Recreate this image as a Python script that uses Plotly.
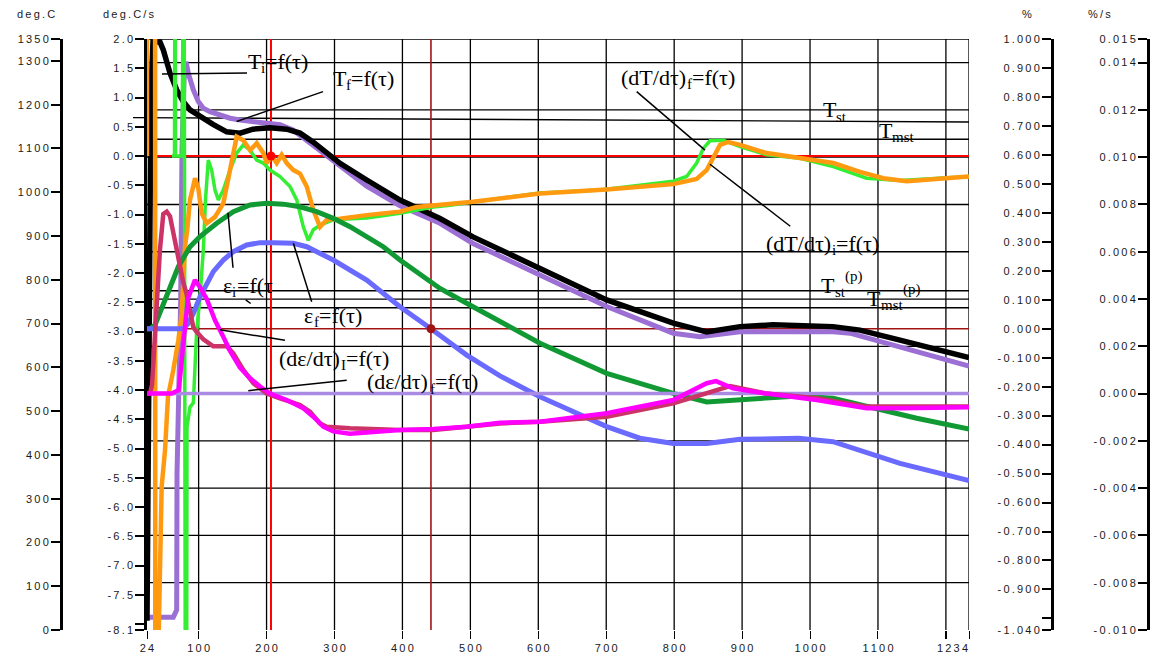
import plotly.graph_objects as go

# ---------------- data ----------------
# time, s
tau_ticks = [24, 100, 200, 300, 400, 500, 600, 700, 800, 900, 1000, 1100, 1234]
tau_labels = ["24", "100", "200", "300", "400", "500", "600", "700", "800", "900",
              "1000", "1100", "1234"]
tau_minor = [1200]

# axis ticks
temp_ticks = [1350, 1300, 1200, 1100, 1000, 900, 800, 700, 600, 500, 400, 300, 200, 100, 0]
rate_ticks = [2.0, 1.5, 1.0, 0.5, 0.0, -0.5, -1.0, -1.5, -2.0, -2.5, -3.0, -3.5, -4.0,
              -4.5, -5.0, -5.5, -6.0, -6.5, -7.0, -7.5, -8.1]
rate_minor = [-8.0]
strain_ticks = [1.0, 0.9, 0.8, 0.7, 0.6, 0.5, 0.4, 0.3, 0.2, 0.1, 0.0, -0.1, -0.2, -0.3,
                -0.4, -0.5, -0.6, -0.7, -0.8, -0.9, -1.04]
strain_minor = [-1.0]
srate_ticks = [0.015, 0.014, 0.012, 0.010, 0.008, 0.006, 0.004, 0.002, 0.000,
               -0.002, -0.004, -0.006, -0.008, -0.010]

# T_i, deg.C
tau_Ti = [24, 25.5, 27, 28.4, 29.9, 32.8, 43.1, 48.0, 57.9, 67.7, 77.4, 87.3, 102.0, 121.2,
          141.3, 160.9, 180.0, 205.1, 229.6, 249.2, 268.4, 288.5, 308.1, 347.4, 396.4,
          455.3, 503.9, 602.5, 700.7, 798.7, 847.9, 897.0, 945.5, 1033.8, 1073.5, 1132.4, 1234]
T_i = [21, 297, 754, 1096, 1234, 1343, 1343, 1325, 1272, 1234, 1207, 1188, 1173, 1155,
       1138, 1135, 1144, 1147, 1144, 1135, 1115, 1089, 1066, 1028, 982,
       940, 898, 826, 754, 701, 681, 693, 697, 693, 685, 662, 622]

# T_f, deg.C
tau_Tf = [24, 62.7, 67.7, 68.2, 73.6, 75.5, 78.5, 81.4, 84.8, 92.2, 99.5, 106.9, 116.7,
          131.5, 146.2, 160.9, 180.0, 200.2, 219.8, 238.9, 258.9, 278.5, 308.1, 347.4,
          396.4, 455.3, 503.9, 602.5, 700.7, 798.7, 838.0, 897.0, 1033.8, 1058.8, 1132.4, 1234]
T_f = [29, 29, 46, 359, 754, 1096, 1256, 1298, 1272, 1234, 1207, 1192, 1184,
       1176, 1169, 1165, 1161, 1159, 1154, 1142, 1119, 1093, 1060, 1014,
       969, 929, 883, 811, 739, 678, 670, 681, 681, 678, 647, 603]

# (dT/dtau)_i, deg.C/s
tau_dTi = [24, 25, 35, 36.5, 41, 43.1, 45.6, 50.5, 54.9, 62.7, 70.1, 75.1, 77.4, 79.9, 83.3,
           87.3, 94.7, 99.5, 104.5, 111.9, 124.1, 136.3, 146.2, 156.0, 165.8, 175.7, 185.5,
           195.2, 200.2, 207.6, 214.9, 222.3, 229.6, 239.4, 249.2, 259.1, 268.8, 278.7,
           288.5, 308.1, 347.4, 396.4, 421.0, 470.0, 503.9, 602.5, 700.7, 798.7, 833.1,
           847.9, 857.6, 867.5, 879.7, 897.0, 936.2, 985.2, 1034.2, 1073.5, 1107.8, 1142.3,
           1181.0, 1234]
dT_i = [0, 40, 40, -20, -8.3, -7.25, -5.65, -5.03, -4.11, -3.66, -3.15, -2.69, -2.12, -1.55,
        -1.26, -0.75, -0.38, -0.55, -0.98, -1.15, -1.04, -0.81, -0.24, 0.33, 0.27, 0.10, 0.22,
        0.05, -0.12, 0.0, -0.12, 0.02, -0.12, -0.24, -0.30, -0.52, -0.92, -1.21,
        -1.09, -1.07, -1.01, -0.95, -0.87, -0.82, -0.78, -0.64, -0.57, -0.48, -0.39,
        -0.24, -0.01, 0.19, 0.24, 0.19, 0.05, -0.04, -0.12, -0.27, -0.38, -0.43,
        -0.40, -0.35]

# (dT/dtau)_f, deg.C/s
tau_dTf = [60.8, 64.5, 65.2, 66.0, 75.5, 78.5, 80.7, 82.1, 82.9, 87.3, 92.2, 97.2, 102.0,
           106.9, 110.1, 112.3, 114.2, 119.2, 124.1, 129.0, 136.3, 146.2, 156.0, 165.8,
           175.7, 185.5, 195.2, 205.1, 219.8, 234.5, 244.4, 254.1, 261.4, 268.8, 278.7,
           298.2, 347.4, 396.4, 445.4, 470.0, 602.5, 690.8, 798.7, 818.4, 833.1, 842.9,
           852.7, 872.3, 897.0, 936.2, 985.2, 1034.2, 1083.3, 1132.4, 1181.4, 1234]
dT_f = [0, 0, 5, 0, 0, 5, -12, -12, -4.63, -4.29, -4.22, -2.97, -2.41,
        -1.61, -0.75, -0.32, -0.07, -0.24, -0.58, -0.75, -0.58, -0.24, 0.05, 0.19,
        0.10, -0.07, -0.12, -0.24, -0.35, -0.52, -0.75, -1.21, -1.44, -1.26, -1.18,
        -1.09, -1.06, -0.98, -0.87, -0.84, -0.63, -0.58, -0.43, -0.35, -0.12, 0.13,
        0.26, 0.27, 0.16, 0.02, -0.04, -0.18, -0.38, -0.42, -0.38, -0.35]

# eps_i, %
tau_ei = [24, 28.4, 35.8, 53.0, 70.1, 87.3, 102.0, 126.6, 151.0, 175.7, 200.2, 224.6, 249.2,
          273.8, 298.2, 322.8, 347.4, 371.8, 396.4, 455.3, 503.9, 602.5, 700.7, 798.7,
          847.9, 909.6, 983.2, 1033.8, 1083.4, 1157.0, 1234]
eps_i = [0.0, 0.0, 0.013, 0.110, 0.214, 0.283, 0.318, 0.364, 0.404, 0.427, 0.433, 0.430,
         0.421, 0.404, 0.381, 0.352, 0.318, 0.283, 0.237, 0.139, 0.076, -0.050, -0.154,
         -0.223, -0.253, -0.244, -0.232, -0.240, -0.269, -0.309, -0.346]

# eps_f, %
tau_ef = [24, 77.4, 84.8, 92.2, 102.0, 111.9, 121.6, 136.3, 151.0, 170.8, 190.4, 210.0,
          239.4, 259.1, 278.7, 298.2, 347.4, 396.4, 442.0, 494.6, 543.6, 602.5, 700.7,
          749.5, 798.7, 847.9, 897.0, 983.2, 1033.8, 1083.4, 1132.4, 1234]
eps_f = [0.0, 0.0, 0.019, 0.053, 0.110, 0.157, 0.197, 0.237, 0.266, 0.289, 0.297, 0.297,
         0.295, 0.283, 0.260, 0.237, 0.168, 0.076, 0.0, -0.091, -0.163, -0.235, -0.338,
         -0.378, -0.396, -0.396, -0.382, -0.378, -0.390, -0.430, -0.465, -0.524]

# (deps/dtau)_i, %/s
tau_dei = [24, 28.4, 31.4, 35.8, 39.8, 43.1, 48.0, 53.0, 57.9, 65.2, 70.1, 73.6, 77.4, 82.4,
           87.3, 92.2, 97.2, 106.9, 121.6, 141.3, 151.0, 165.8, 180.5, 200.2, 219.8, 249.2,
           263.9, 278.7, 288.5, 322.8, 396.4, 445.4, 494.6, 543.6, 602.5, 700.7, 798.7,
           847.9, 882.2, 936.2, 1009.8, 1083.4, 1234]
deps_i = [0.0, 0.0, 0.00036, 0.0027, 0.0048, 0.0061, 0.0076, 0.0077, 0.0075, 0.0064,
          0.0056, 0.0052, 0.0047, 0.0042, 0.0035, 0.0028, 0.0026, 0.0023, 0.0020, 0.0020,
          0.0017, 0.0010, 0.00044, 0.0, -0.0002, -0.00048, -0.00077, -0.00126, -0.0014,
          -0.00147, -0.00154, -0.00154, -0.0014, -0.00126, -0.00119, -0.00098, -0.00041,
          0.0, 0.00032, 0.0, -0.0002, -0.00055, -0.00055]

# (deps/dtau)_f, %/s
tau_def = [24, 60.5, 70.8, 78.2, 84.1, 94.5, 102.0, 111.9, 124.1, 136.3, 146.2, 160.9,
           175.7, 190.4, 205.1, 229.6, 254.1, 268.8, 283.5, 298.2, 322.8, 347.4, 396.4,
           445.4, 494.6, 543.6, 602.5, 700.7, 798.7, 847.9, 861.6, 886.6, 936.2, 1009.8,
           1083.4, 1132.4, 1234]
deps_f = [0.0, 0.0, 0.00015, 0.0023, 0.0040, 0.0048, 0.0045, 0.0040, 0.0031, 0.0024,
          0.0018, 0.0011, 0.00065, 0.0003, 0.0, -0.00027, -0.00062, -0.00098, -0.0014,
          -0.0016, -0.0017, -0.00165, -0.00154, -0.0015, -0.0014, -0.00123, -0.00119,
          -0.00083, -0.00027, 0.00044, 0.00053, 0.00022, 0.0, -0.00027, -0.00062,
          -0.00062, -0.00058]

# zero strain-rate reference
tau_zero = [24, 1234]
deps_zero = [0.0, 0.0]

# characteristic temperatures, deg.C (start / end of the level line)
T_st = [1170.5, 1160.5]
T_mst = [1121, 1121]
T_st_p = [775, 775]
T_mst_p = [736, 736]

# cursor positions, s
cursor_tau = [206.5, 442.0]

# ---------------- layout helpers ----------------
W, H = 1153, 661
X0, X1 = 147 / W, 969 / W
THIN = "\u2009"
TICK_FONT = dict(family="Liberation Sans, Arial, sans-serif", size=11, color="#1a1a1a")
SERIF_FAMILY = "Liberation Serif, Times New Roman, serif"
MAIN_SIZE, SMALL_SIZE = 22, 15

# advance widths of Liberation Serif glyphs, in em
GLYPH_EM = {"T": 0.611, "(": 0.333, ")": 0.333, "d": 0.5, "/": 0.278, "τ": 0.44,
            "=": 0.564, "f": 0.333, "ε": 0.44, "i": 0.278, "s": 0.389, "t": 0.278,
            "m": 0.778, "p": 0.5, "I": 0.333}


def spaced(s):
    return THIN.join(s)


def text_width(s, size):
    return sum(GLYPH_EM.get(c, 0.5) for c in s) * size


fig = go.Figure()

# temperatures (base layer)
fig.add_trace(go.Scatter(x=tau_Tf, y=T_f, yaxis="y", mode="lines",
                         line=dict(color="#9B6FD3", width=5), name="T_f"))
fig.add_trace(go.Scatter(x=tau_Ti, y=T_i, yaxis="y", mode="lines",
                         line=dict(color="#000000", width=5.5), name="T_i"))
# heating / cooling rates
fig.add_trace(go.Scatter(x=tau_dTf, y=dT_f, yaxis="y2", mode="lines",
                         line=dict(color="#33EE33", width=3.5), name="(dT/dτ)_f"))
fig.add_trace(go.Scatter(x=tau_dTi, y=dT_i, yaxis="y2", mode="lines",
                         line=dict(color="#FF9A10", width=4.5), name="(dT/dτ)_i"))
fig.add_trace(go.Scatter(x=[cursor_tau[0]], y=[0.0], yaxis="y2", mode="markers",
                         marker=dict(color="#FF0000", size=9), name="cursor 1"))
# strains
fig.add_trace(go.Scatter(x=tau_ei, y=eps_i, yaxis="y3", mode="lines",
                         line=dict(color="#119933", width=5), name="ε_i"))
fig.add_trace(go.Scatter(x=tau_ef, y=eps_f, yaxis="y3", mode="lines",
                         line=dict(color="#6A6AFF", width=5), name="ε_f"))
fig.add_trace(go.Scatter(x=[cursor_tau[1]], y=[0.0], yaxis="y3", mode="markers",
                         marker=dict(color="#A01414", size=9), name="cursor 2"))
# strain rates
fig.add_trace(go.Scatter(x=tau_zero, y=deps_zero, yaxis="y4", mode="lines",
                         line=dict(color="#A98BE3", width=3.5), name="zero"))
fig.add_trace(go.Scatter(x=tau_dei, y=deps_i, yaxis="y4", mode="lines",
                         line=dict(color="#CC3366", width=4.5), name="(dε/dτ)_i"))
fig.add_trace(go.Scatter(x=tau_def, y=deps_f, yaxis="y4", mode="lines",
                         line=dict(color="#FF00FF", width=4.5), name="(dε/dτ)_f"))

shapes = []
# grid: verticals on time ticks, horizontals on the %/s scale
for t in sorted(tau_ticks[1:] + tau_minor):
    shapes.append(dict(type="line", xref="x", yref="paper", x0=t, x1=t, y0=0, y1=1,
                       line=dict(color="black", width=1.3), layer="below"))
for r in srate_ticks[:-1]:
    shapes.append(dict(type="line", xref="paper", yref="y4", x0=X0, x1=X1, y0=r, y1=r,
                       line=dict(color="black", width=1.3), layer="below"))
# characteristic temperature levels
for lvl, x_start in ((T_st, 133 / W), (T_mst, X0), (T_st_p, 145 / W), (T_mst_p, 145 / W)):
    shapes.append(dict(type="line", xref="paper", yref="y", x0=x_start, x1=X1,
                       y0=lvl[0], y1=lvl[1], line=dict(color="black", width=1.4),
                       layer="below"))
# cursors
shapes.append(dict(type="line", xref="paper", yref="y2", x0=X0, x1=X1, y0=0, y1=0,
                   line=dict(color="#FF0000", width=2), layer="below"))
shapes.append(dict(type="line", xref="x", yref="paper", x0=cursor_tau[0], x1=cursor_tau[0],
                   y0=0, y1=1, line=dict(color="#FF0000", width=2), layer="below"))
shapes.append(dict(type="line", xref="paper", yref="y3", x0=X0, x1=X1, y0=0, y1=0,
                   line=dict(color="#A01414", width=1.6), layer="below"))
shapes.append(dict(type="line", xref="x", yref="paper", x0=cursor_tau[1], x1=cursor_tau[1],
                   y0=0, y1=1, line=dict(color="#A01414", width=1.6), layer="below"))

# curve labels: pieces (text, kind) placed from (tau, rate); kind n/sub/sup
labels = [
    ([("T", "n"), ("i", "sub"), ("=f(τ)", "n")], 171, 1.62),
    ([("T", "n"), ("f", "sub"), ("=f(τ)", "n")], 296, 1.33),
    ([("(dT/dτ)", "n"), ("f", "sub"), ("=f(τ)", "n")], 720, 1.35),
    ([("(dT/dτ)", "n"), ("i", "sub"), ("=f(τ)", "n")], 934, -1.49),
    ([("T", "n"), ("st", "sub")], 1017, 0.79),
    ([("T", "n"), ("mst", "sub")], 1100, 0.44),
    ([("T", "n"), ("st", "sub"), ("(p)", "sup")], 1015, -2.21),
    ([("T", "n"), ("mst", "sub"), ("(p)", "sup")], 1083, -2.43),
    ([("ε", "n"), ("i", "sub"), ("=f(τ", "n")], 134, -2.21),
    ([("ε", "n"), ("f", "sub"), ("=f(τ)", "n")], 254, -2.72),
    ([("(dε/dτ)", "n"), ("I", "sub"), ("=f(τ)", "n")], 217, -3.46),
    ([("(dε/dτ)", "n"), ("f", "sub"), ("=f(τ)", "n")], 347, -3.86),
]
leaders = [
    (46.1, 1.40, 171.2, 1.42),
    (283.1, 1.10, 156.0, 0.59),
    (744.8, 1.10, 845.4, 0.10),
    (970.9, -1.20, 852.7, -0.14),
    (143.2, -0.97, 150.6, -1.91),
    (169.3, -2.46, 176.6, -2.52),
    (239.4, -1.49, 266.4, -2.49),
    (131.5, -2.97, 227.1, -3.15),
    (173.1, -4.01, 318.0, -3.83),
]
for t0, v0, t1, v1 in leaders:
    shapes.append(dict(type="line", xref="x", yref="y2", x0=t0, y0=v0, x1=t1, y1=v1,
                       line=dict(color="black", width=1.5)))

annotations = []
for pieces, t, v in labels:
    shift = 0.0
    for txt, kind in pieces:
        size = MAIN_SIZE if kind == "n" else SMALL_SIZE
        dy = {"n": 0, "sub": -7, "sup": 9}[kind]
        annotations.append(dict(text=txt, x=t, y=v, xref="x", yref="y2", xanchor="left",
                                yanchor="middle", xshift=shift, yshift=dy, showarrow=False,
                                borderpad=0,
                                font=dict(family=SERIF_FAMILY, size=size, color="black")))
        shift += text_width(txt, size)
# axis captions
for text, px in (("deg.C", 36), ("deg.C/s", 129), ("%", 1027), ("%/s", 1099)):
    annotations.append(dict(text=spaced(text), x=px / W, y=(630 - 14) / 591, xref="paper",
                            yref="paper", xanchor="center", yanchor="middle",
                            showarrow=False, font=TICK_FONT))

common_y = dict(ticks="outside", ticklen=9, tickwidth=1.5, tickcolor="black",
                showline=True, linecolor="black", showgrid=False, zeroline=False,
                tickfont=TICK_FONT, automargin=False, side="left")


def minor_ticks(vals, length):
    return dict(tickmode="array", tickvals=vals, ticks="outside", ticklen=length,
                tickwidth=1.5, tickcolor="black", showgrid=False)


fig.update_layout(
    width=W, height=H, margin=dict(l=0, r=0, t=39, b=31),
    template="none", plot_bgcolor="white", paper_bgcolor="white", showlegend=False,
    xaxis=dict(domain=[X0, X1], range=[24, 1234], tickmode="array", tickvals=tau_ticks,
               ticktext=[spaced(s) for s in tau_labels[:-1]] +
               [spaced(tau_labels[-1]) + "\u2003\u2003\u2003"],
               ticks="outside", ticklen=8, tickwidth=1.3, tickcolor="black",
               minor=minor_ticks(tau_minor, 8),
               showline=False, showgrid=False, zeroline=False, tickfont=TICK_FONT,
               automargin=False),
    yaxis=dict(range=[0, 1350], anchor="free", position=61 / W, tickmode="array",
               tickvals=temp_ticks, ticktext=[spaced(str(v)) for v in temp_ticks],
               linewidth=3, **common_y),
    yaxis2=dict(range=[-8.1, 2.0], overlaying="y", anchor="x", tickmode="array",
                tickvals=rate_ticks, ticktext=[spaced(f"{v:.1f}") for v in rate_ticks],
                minor=minor_ticks(rate_minor, 9), linewidth=2.5, **common_y),
    yaxis3=dict(range=[-1.04, 1.0], overlaying="y", anchor="free", position=1052 / W,
                tickmode="array", tickvals=strain_ticks,
                ticktext=[spaced(f"{v:.3f}") for v in strain_ticks],
                minor=minor_ticks(strain_minor, 9), linewidth=3, **common_y),
    yaxis4=dict(range=[-0.010, 0.015], overlaying="y", anchor="free", position=1148 / W,
                tickmode="array", tickvals=srate_ticks,
                ticktext=[spaced(f"{v:.3f}") for v in srate_ticks],
                linewidth=3, **common_y),
    shapes=shapes,
    annotations=annotations,
)

fig.write_html("out.html")
